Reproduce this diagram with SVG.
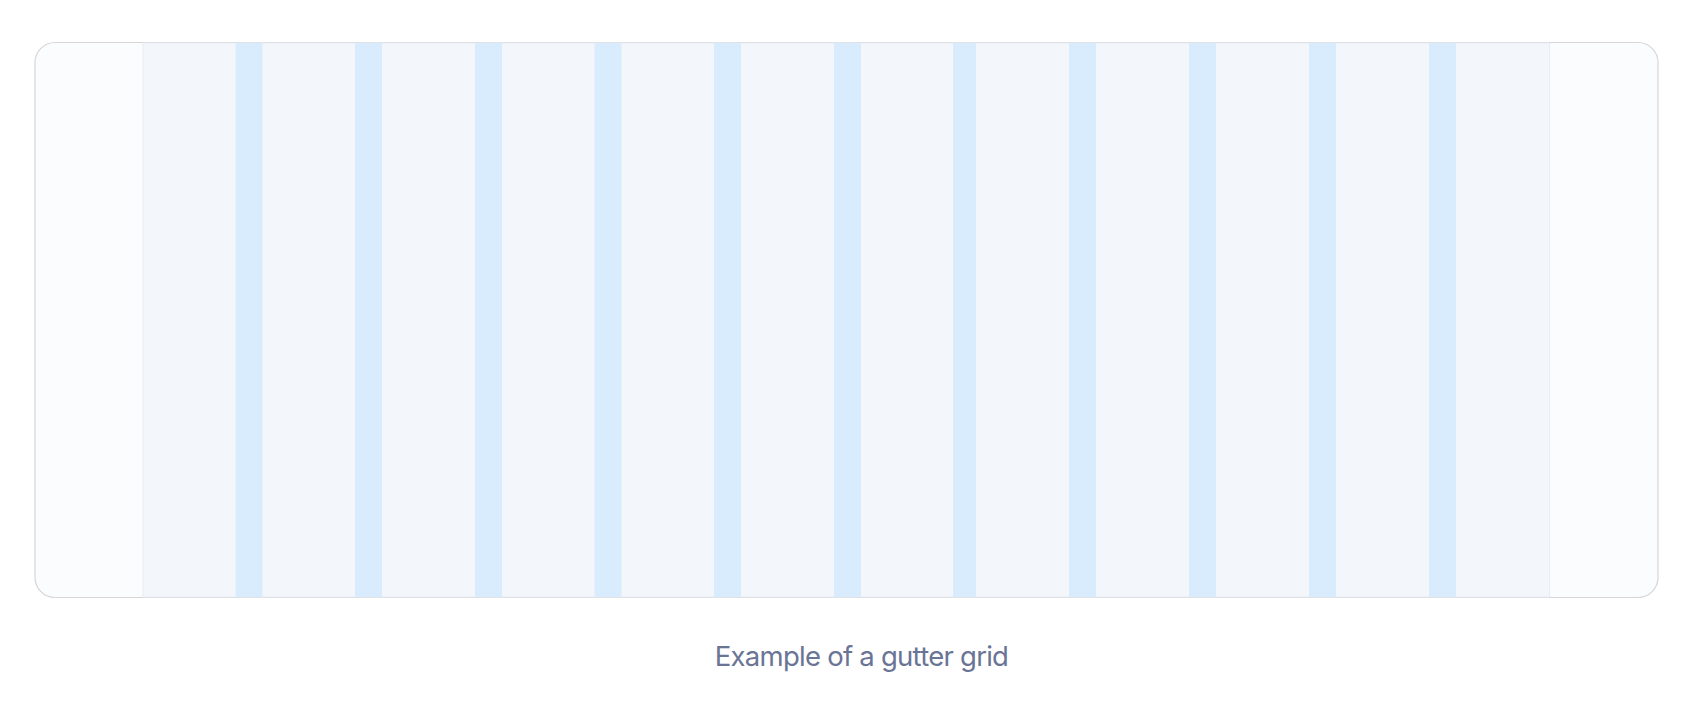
<svg xmlns="http://www.w3.org/2000/svg" width="1700" height="705" viewBox="0 0 1700 705">
<style>
.frame{fill:#fbfcfe;stroke:#d6d6d8;stroke-width:1.2}
.col{fill:#f3f7fb;stroke:#e9edf2;stroke-width:1}
.gut{fill:#d9ecfd}
.cap{font-family:Inter,"Liberation Sans",sans-serif;font-size:27.5px;letter-spacing:-0.75px;fill:#6a7495}
</style>
<rect width="1700" height="705" fill="#ffffff"/>
<g id="frame"><rect class="frame" x="35" y="42.5" width="1623" height="555" rx="20"/></g>
<g id="columns">
<rect class="col" x="143" y="43" width="1406.5" height="554"/>
</g>
<g id="gutters">
<rect class="gut" x="235.5" y="43" width="27" height="554"/>
<rect class="gut" x="355" y="43" width="27" height="554"/>
<rect class="gut" x="475" y="43" width="27" height="554"/>
<rect class="gut" x="594.5" y="43" width="27" height="554"/>
<rect class="gut" x="714" y="43" width="27" height="554"/>
<rect class="gut" x="834" y="43" width="27" height="554"/>
<rect class="gut" x="953" y="43" width="23" height="554"/>
<rect class="gut" x="1069" y="43" width="27" height="554"/>
<rect class="gut" x="1189" y="43" width="27" height="554"/>
<rect class="gut" x="1309" y="43" width="27" height="554"/>
<rect class="gut" x="1429" y="43" width="27" height="554"/>
</g>
<g id="caption"><text class="cap" x="861.5" y="666" text-anchor="middle">Example of a gutter grid</text></g>
</svg>
